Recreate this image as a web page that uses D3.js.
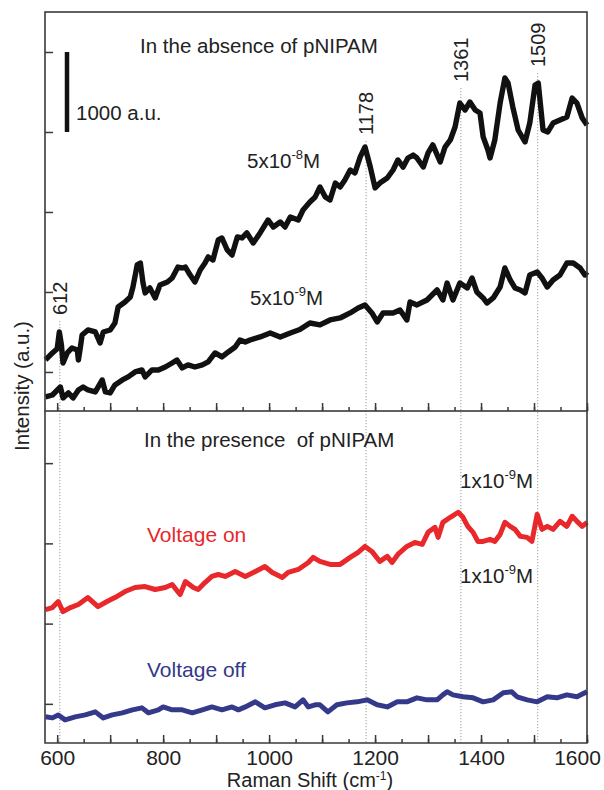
<!DOCTYPE html>
<html><head><meta charset="utf-8">
<script src="https://cdn.jsdelivr.net/npm/d3@7"></script>
<style>
body{margin:0;background:#fff}
svg{display:block}
text{font-family:"Liberation Sans",Arial,Helvetica,sans-serif;fill:#222}
</style>
</head><body>
<svg id="chart" width="604" height="790"></svg>
<script>
// ---------- data ----------
const xMajorTicks = [600,700,800,900,1000,1100,1200,1300,1400,1500,1600];
const xMinorTicks = [600,650,700,750,800,850,900,950,1000,1050,1100,1150,1200,1250,1300,1350,1400,1450,1500,1550,1600];
const xTickLabels = [600,800,1000,1200,1400,1600];
const yTicksTop = [1000,2000,3000,4000,5000];
const yTicksBottom = [1000,2000,3000,4000];
const peakPositions = [605,1183,1362,1507];
const peakLabels = ["612","1178","1361","1509"];

// 5x10^-8 M, no pNIPAM  [Raman shift, intensity]
const spec5e8 = [[578,1150],[591,1238],[600,1290],[604,1500],[608,1338],[611,1112],[619,1238],[628,1300],[638,1275],[640,1150],[643,1275],[647,1462],[658,1525],[672,1500],[681,1362],[687,1500],[700,1525],[709,1612],[715,1812],[728,1875],[738,1938],[743,2062],[751,2338],[757,2362],[762,2112],[766,1988],[775,2050],[785,1925],[794,2088],[808,2125],[817,2175],[828,2312],[836,2300],[842,2312],[851,2212],[860,2125],[870,2275],[879,2362],[885,2438],[894,2400],[904,2650],[911,2675],[921,2525],[930,2462],[940,2688],[949,2675],[958,2738],[970,2612],[983,2738],[998,2900],[1008,2812],[1021,2875],[1030,2812],[1040,2938],[1055,2900],[1064,3025],[1077,3125],[1087,3188],[1096,3312],[1106,3188],[1115,3150],[1125,3362],[1134,3312],[1143,3400],[1153,3525],[1162,3488],[1172,3688],[1181,3812],[1191,3562],[1200,3300],[1209,3362],[1223,3425],[1234,3525],[1243,3650],[1253,3562],[1262,3675],[1272,3712],[1279,3675],[1291,3562],[1300,3738],[1309,3838],[1323,3625],[1332,3812],[1342,3900],[1351,4062],[1360,4362],[1370,4275],[1379,4375],[1389,4275],[1398,4238],[1404,3938],[1413,3775],[1417,3675],[1426,3900],[1436,4362],[1445,4675],[1451,4612],[1460,4312],[1470,4025],[1483,3875],[1492,4112],[1502,4588],[1508,4612],[1517,4025],[1526,4000],[1536,4112],[1549,4150],[1562,4188],[1572,4425],[1581,4362],[1591,4175],[1600,4088]];

// 5x10^-9 M, no pNIPAM
const spec5e9 = [[578,688],[591,712],[606,812],[611,675],[621,738],[630,675],[640,775],[649,812],[658,775],[672,750],[685,900],[691,750],[700,738],[709,838],[723,900],[734,938],[747,1000],[760,1025],[766,938],[779,1025],[791,1025],[804,1062],[817,1112],[826,1150],[836,1050],[847,1088],[860,1062],[874,1088],[885,1125],[898,1238],[911,1188],[923,1250],[936,1312],[945,1400],[955,1375],[964,1400],[983,1438],[1002,1488],[1021,1438],[1040,1488],[1058,1530],[1077,1612],[1096,1588],[1115,1650],[1134,1675],[1153,1738],[1168,1800],[1181,1838],[1194,1738],[1204,1625],[1215,1738],[1234,1738],[1247,1775],[1260,1650],[1266,1875],[1279,1838],[1298,1900],[1317,2025],[1328,1900],[1336,2112],[1347,1900],[1360,2112],[1374,2050],[1383,2175],[1392,2000],[1404,1925],[1411,1862],[1423,1925],[1436,2062],[1445,2300],[1455,2150],[1464,2050],[1474,2025],[1483,1988],[1492,2212],[1506,2250],[1515,2175],[1525,2062],[1536,2150],[1549,2212],[1562,2362],[1574,2362],[1587,2300],[1596,2212],[1600,2250]];

// 1x10^-9 M with pNIPAM, voltage on
const specOn = [[578,2175],[591,2200],[602,2275],[611,2150],[625,2200],[640,2238],[658,2325],[677,2212],[694,2275],[709,2325],[728,2400],[747,2450],[766,2462],[785,2425],[804,2450],[817,2488],[832,2362],[842,2525],[857,2450],[866,2425],[879,2512],[892,2588],[904,2612],[917,2588],[936,2650],[955,2588],[974,2650],[992,2712],[1006,2638],[1025,2575],[1036,2638],[1055,2675],[1074,2762],[1083,2825],[1096,2775],[1115,2738],[1134,2738],[1153,2825],[1168,2888],[1181,2962],[1194,2900],[1209,2775],[1223,2838],[1232,2762],[1243,2862],[1260,2962],[1275,3012],[1289,2988],[1300,3138],[1313,3200],[1319,3075],[1328,3262],[1342,3325],[1357,3388],[1366,3325],[1375,3212],[1385,3138],[1394,3025],[1404,3025],[1417,3050],[1426,3025],[1436,3112],[1445,3262],[1455,3212],[1464,3175],[1474,3088],[1487,3075],[1496,3025],[1506,3362],[1515,3175],[1525,3212],[1536,3175],[1549,3275],[1562,3212],[1572,3338],[1581,3275],[1591,3212],[1600,3262]];

// 1x10^-9 M with pNIPAM, voltage off
const specOff = [[578,838],[591,825],[602,862],[615,800],[634,838],[653,862],[672,900],[687,825],[704,862],[723,888],[742,925],[760,950],[772,888],[791,925],[800,962],[817,925],[836,925],[855,888],[874,925],[892,962],[911,925],[930,962],[942,925],[955,962],[974,1025],[992,950],[1011,988],[1030,1012],[1049,962],[1064,1050],[1074,962],[1087,988],[1096,988],[1111,900],[1128,988],[1147,1012],[1166,1025],[1185,1050],[1204,988],[1223,962],[1242,1025],[1260,1025],[1279,1075],[1298,1050],[1317,1050],[1328,1112],[1336,1150],[1347,1112],[1366,1088],[1385,1075],[1404,1025],[1423,1050],[1442,1138],[1458,1150],[1468,1088],[1487,1050],[1506,1025],[1525,1088],[1543,1075],[1562,1112],[1581,1088],[1596,1138],[1600,1150]];

// ---------- layout ----------
const L = 45, R = 587;
const topP = {t:12, b:411};
const botP = {t:411, b:743};
const axisColor = "#3a3a3a";
const red = "#e8282b", navy = "#34398a";

const svg = d3.select("#chart");
const x = d3.scaleLinear().domain([577,1600]).range([L,R]);
const yTop = d3.scaleLinear().domain([512,5500]).range([topP.b, topP.t]);
const yBot = d3.scaleLinear().domain([512,4650]).range([botP.b, botP.t]);

// dotted peak guide lines
const labelBottomY = [315,135,82,67];
peakPositions.forEach((p,i)=>{
  svg.append("line")
    .attr("x1",x(p)).attr("x2",x(p))
    .attr("y1",labelBottomY[i]+6).attr("y2",botP.b)
    .attr("stroke","#9a9a9a").attr("stroke-width",1)
    .attr("stroke-dasharray","1.2,1.8");
  svg.append("text")
    .attr("transform",`translate(${x(p)+7},${labelBottomY[i]}) rotate(-90)`)
    .attr("font-size",20).text(peakLabels[i]);
});

// lines
const lineTop = d3.line().x(d=>x(d[0])).y(d=>yTop(d[1]));
const lineBot = d3.line().x(d=>x(d[0])).y(d=>yBot(d[1]));
[[spec5e8,lineTop,"#111",5.4],[spec5e9,lineTop,"#111",5.4],[specOn,lineBot,red,5],[specOff,lineBot,navy,5]].forEach(([data,gen,col,w])=>{
  svg.append("path").datum(data).attr("d",gen)
    .attr("fill","none").attr("stroke",col).attr("stroke-width",w)
    .attr("stroke-linejoin","round");
});

// frames
svg.append("rect").attr("x",L).attr("y",topP.t).attr("width",R-L).attr("height",topP.b-topP.t)
  .attr("fill","none").attr("stroke",axisColor).attr("stroke-width",1.6);
svg.append("path").attr("d",`M${L},${botP.t}V${botP.b}H${R}V${botP.t}`)
  .attr("fill","none").attr("stroke",axisColor).attr("stroke-width",1.6);

// x axes (ticks inward)
function xAxes(yPos, labels){
  const gMin = svg.append("g").attr("transform",`translate(0,${yPos})`)
    .call(d3.axisBottom(x).tickValues(xMinorTicks).tickSize(-4).tickFormat(""));
  const gMaj = svg.append("g").attr("transform",`translate(0,${yPos})`)
    .call(d3.axisBottom(x).tickValues(xMajorTicks).tickSize(-8).tickPadding(7)
      .tickFormat(d=> labels && xTickLabels.includes(d) ? d : ""));
  [gMin,gMaj].forEach(g=>{
    g.select(".domain").remove();
    g.selectAll(".tick line").attr("stroke",axisColor).attr("stroke-width",1.5);
    g.selectAll(".tick text").attr("font-size",21).attr("fill","#222")
      .attr("font-family",'"Liberation Sans",Arial,sans-serif');
  });
  if (labels) {
    gMaj.selectAll(".tick text").filter(d=>d===1600).attr("dx",-10);
  }
}
xAxes(topP.b,false);
xAxes(botP.b,true);

// y axes ticks inward, no labels
function yAxis(scale, ticks){
  const g = svg.append("g").attr("transform",`translate(${L},0)`)
    .call(d3.axisLeft(scale).tickValues(ticks).tickSize(-8).tickFormat(""));
  g.select(".domain").remove();
  g.selectAll(".tick line").attr("stroke",axisColor).attr("stroke-width",1.5);
}
yAxis(yTop,yTicksTop);
yAxis(yBot,yTicksBottom);

// scale bar: 1000 a.u.
svg.append("line").attr("x1",67).attr("x2",67)
  .attr("y1",yTop(5000)).attr("y2",yTop(4000))
  .attr("stroke","#111").attr("stroke-width",4.5);
svg.append("text").attr("x",76).attr("y",120).attr("font-size",20.5).text("1000 a.u.");

// titles
svg.append("text").attr("x",140).attr("y",53).attr("font-size",20.5).text("In the absence of pNIPAM");
svg.append("text").attr("x",144).attr("y",447).attr("font-size",20.5)
  .style("white-space","pre").text("In the presence  of pNIPAM");

// concentration labels
function conc(xp, yp, base, sup, color){
  const t = svg.append("text").attr("x",xp).attr("y",yp).attr("font-size",20.5);
  if (color) t.style("fill",color);
  t.append("tspan").text(base);
  t.append("tspan").attr("font-size",13).attr("dy",-9).text(sup);
  t.append("tspan").attr("dy",9).text("M");
}
conc(247,168,"5x10","-8");
conc(250,305,"5x10","-9");
conc(460,488,"1x10","-9");
conc(460,583,"1x10","-9");

svg.append("text").attr("x",147).attr("y",542).attr("font-size",21).style("fill",red).text("Voltage on");
svg.append("text").attr("x",147).attr("y",677).attr("font-size",21).style("fill",navy).text("Voltage off");

// axis titles
const xt = svg.append("text").attr("x",310).attr("y",787).attr("text-anchor","middle").attr("font-size",20);
xt.append("tspan").text("Raman Shift (cm");
xt.append("tspan").attr("font-size",12).attr("dy",-7).text("-1");
xt.append("tspan").attr("dy",7).text(")");

svg.append("text").attr("transform","translate(29,386) rotate(-90)")
  .attr("text-anchor","middle").attr("font-size",20.5).text("Intensity (a.u.)");
</script>
</body></html>
